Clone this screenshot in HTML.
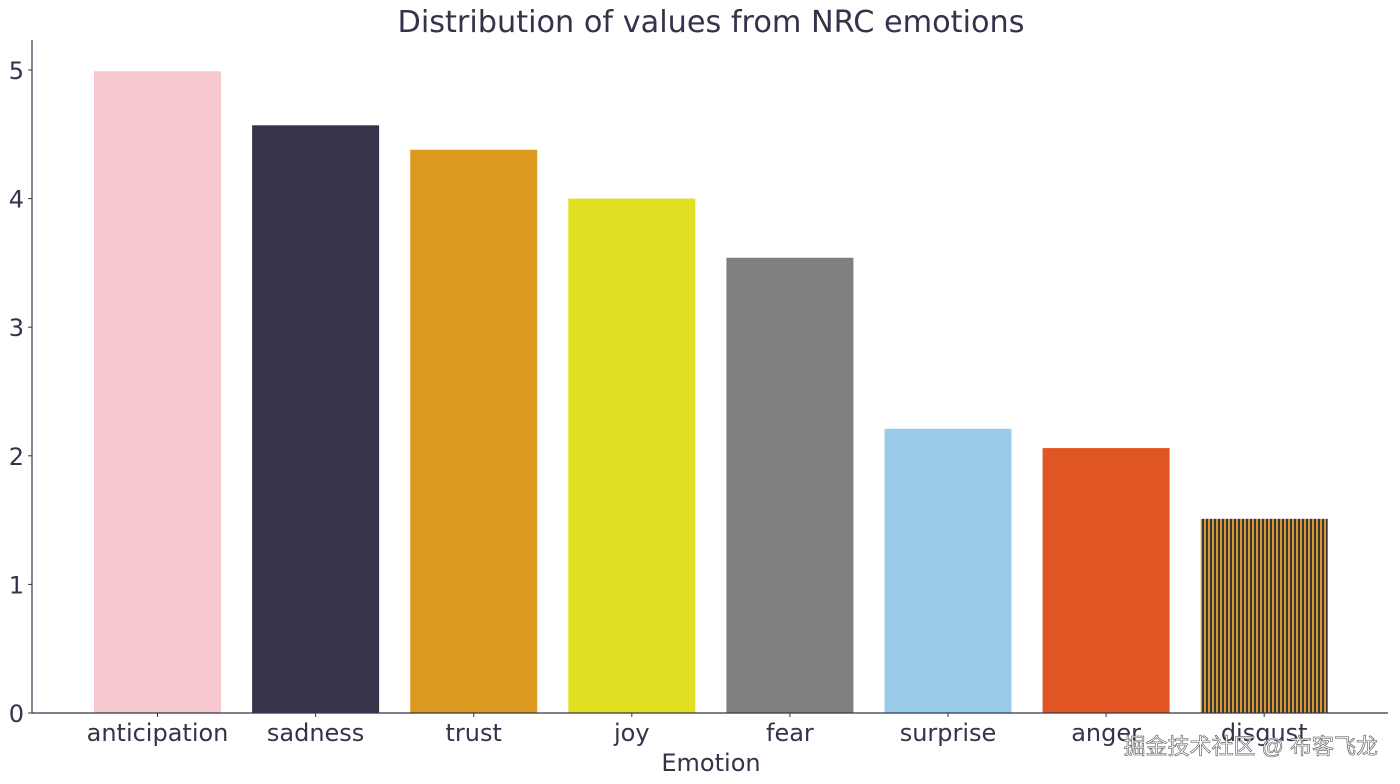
<!DOCTYPE html>
<html><head><meta charset="utf-8"><style>
body{margin:0;background:#fff;}
svg{display:block;font-family:"DejaVu Sans","Liberation Sans",sans-serif;}
</style></head><body>
<svg id="chart" width="1400" height="784">
<defs>
<pattern id="hatch" width="4" height="4" patternUnits="userSpaceOnUse">
<rect width="4" height="4" fill="#3a3440"/><rect width="2" height="4" fill="#d49a2a"/>
</pattern>
</defs>
<text x="711" y="32" text-anchor="middle" font-size="30.3" fill="#34334a">Distribution of values from NRC emotions</text>
<g id="bars"></g>
<g id="axes"></g>
<text x="711" y="771" text-anchor="middle" font-size="24" fill="#34334a">Emotion</text>
<text x="1378" y="754" text-anchor="end" font-size="22" fill="#ffffff" stroke="#555" stroke-width="0.6" font-family="'Liberation Sans','Noto Sans CJK SC',sans-serif">掘金技术社区 @ 布客飞龙</text>
</svg>
<script>
const categories=["anticipation","sadness","trust","joy","fear","surprise","anger","disgust"];
const values=[4.99,4.57,4.38,4.0,3.54,2.21,2.06,1.51];
const colors=["#f5c9cf","#35344b","#dc9a20","#e0df22","#808080","#99cbe9","#e05623","url(#hatch)"];
const yTicks=[0,1,2,3,4,5];
const NS="http://www.w3.org/2000/svg";
const y0=713, ppu=128.6, x0=157.5, step=158.1, bw=127;
const yScale=v=>y0-v*ppu;
const xScale=i=>x0+i*step;
function mk(t,a){const e=document.createElementNS(NS,t);for(const k in a)e.setAttribute(k,a[k]);return e;}
const bars=document.getElementById('bars'),axes=document.getElementById('axes');
values.forEach((v,i)=>{
 const r=mk('rect',{x:xScale(i)-bw/2,y:yScale(v),width:bw,height:y0-yScale(v),fill:colors[i]});
 
 
 bars.appendChild(r);
 const t=mk('text',{x:xScale(i),y:741,'text-anchor':'middle','font-size':24,fill:'#34334a'});
 t.textContent=categories[i];
 
 
 axes.appendChild(t);
 axes.appendChild(mk('line',{x1:xScale(i),x2:xScale(i),y1:y0,y2:y0+4,stroke:'#34334a'}));
});
yTicks.forEach(v=>{
 axes.appendChild(mk('line',{x1:28,x2:32,y1:yScale(v),y2:yScale(v),stroke:'#34334a'}));
 const t=mk('text',{x:24,y:yScale(v)+9,'text-anchor':'end','font-size':24,fill:'#34334a'});
 t.textContent=v;
 
 
 axes.appendChild(t);
});
const ya=mk('line',{x1:32,x2:32,y1:40,y2:y0,stroke:'#34334a','stroke-width':1.2});


axes.appendChild(ya);
const xa=mk('line',{x1:32,x2:1388,y1:y0,y2:y0,stroke:'#34334a','stroke-width':1.2});


axes.appendChild(xa);
</script>
</body></html>
